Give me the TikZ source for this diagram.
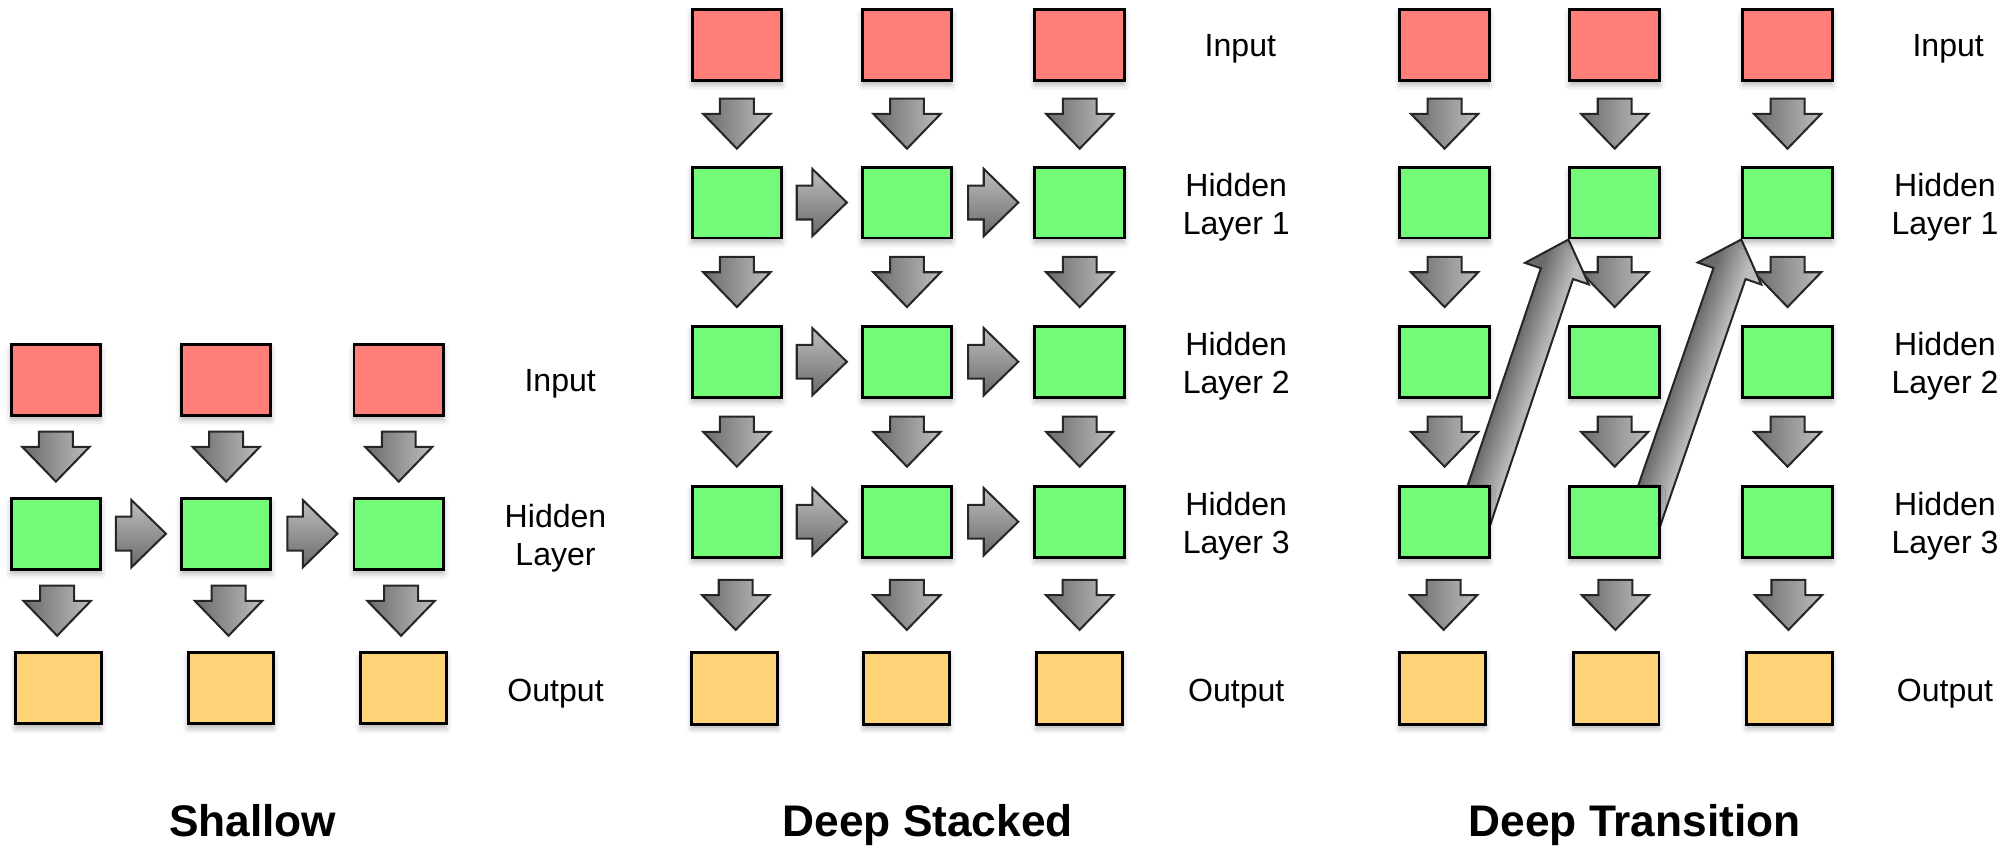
\documentclass[tikz,border=0pt]{standalone}
\usepackage{fontspec}
\setmainfont{Liberation Sans}
\usetikzlibrary{calc,shadows.blur}
\definecolor{salmon}{HTML}{FF7E79}
\definecolor{flora}{HTML}{73FA79}
\definecolor{cantaloupe}{HTML}{FFD479}
\definecolor{adark}{HTML}{6A6A6A}
\definecolor{alight}{HTML}{BEBEBE}
\definecolor{aedge}{HTML}{262626}
\pgfdeclarelayer{bg}
\pgfsetlayers{bg,main}
\tikzset{
  box/.style={draw=black, line width=1.3pt, minimum width=13.94mm, minimum height=11.04mm, inner sep=0pt,
    blur shadow={shadow xshift=0mm, shadow yshift=-0.7mm, shadow blur radius=0.9mm, shadow opacity=30}},
  inbox/.style={box, fill=salmon},
  hidbox/.style={box, fill=flora},
  outbox/.style={box, fill=cantaloupe, minimum width=13.34mm, minimum height=11.1mm},
  lbl/.style={font=\fontsize{14.2}{16.8}\selectfont, align=center, inner sep=0pt},
  ttl/.style={font=\fontsize{19.6}{23}\selectfont\bfseries, inner sep=0pt, anchor=base},
  arrowline/.style={draw=aedge, line width=0.9pt, line join=miter},
  darrow/.pic={\path[arrowline, left color=adark, right color=alight]
    (-13.2,-19.6) -- (13.2,-19.6) -- (13.2,-7.7) -- (26.2,-7.7) -- (0,19.4) -- (-26.2,-7.7) -- (-13.2,-7.7) -- cycle;},
  rarrow/.pic={\path[arrowline, top color=alight, bottom color=adark]
    (-19.6,-13.2) -- (-7.5,-13.2) -- (-7.5,-26.2) -- (19.4,0) -- (-7.5,26.2) -- (-7.5,13.2) -- (-19.6,13.2) -- cycle;},
  bigarrow/.pic={
    \begin{scope}
      \clip (0,-13.2) -- (#1-28,-13.2) -- (#1-28,-26.2) -- (#1,0) -- (#1-28,26.2) -- (#1-28,13.2) -- (0,13.2) -- cycle;
      \foreach \k in {0,...,26}{
        \pgfmathsetmacro{\c}{max(0,min(100,(2*\k-12)/26*100))}
        \fill[alight!\c!adark] (-1,-26+2*\k) rectangle (#1+1,-26+2*\k+2.3);
      }
    \end{scope}
    \path[arrowline] (0,-13.2) -- (#1-28,-13.2) -- (#1-28,-26.2) -- (#1,0) -- (#1-28,26.2) -- (#1-28,13.2) -- (0,13.2) -- cycle;
  },
}
\begin{document}
\begin{tikzpicture}[x=0.2mm,y=-0.2mm]
\useasboundingbox (0,0) rectangle (1568,658);

% ---------- Shallow ----------
\foreach \n/\x/\ox in {1/43.5/45.4, 2/176/179.7, 3/310.3/313.9}{
  \node[inbox] (si\n) at (\x,295.5) {};
  \node[hidbox] (sh\n) at (\x,415.3) {};
  \node[outbox] (so\n) at (\ox,535.5) {};
}
\node[lbl, anchor=base] (slin) at (435.9,304.5) {Input};
\node[lbl] (slhid) at (432.3,418.8) {Hidden\\Layer};
\node[lbl, anchor=base] (slout) at (432.3,545.9) {Output};
\node[ttl] (tshallow) at (196.6,651.1) {Shallow};

% ---------- Deep Stacked ----------
\foreach \n/\x/\ox in {1/573.4/571.6, 2/705.8/705.5, 3/840.2/840}{
  \node[inbox] (di\n) at (\x,35) {};
  \node[hidbox] (da\n) at (\x,157.6) {};
  \node[hidbox] (db\n) at (\x,281.5) {};
  \node[hidbox] (dc\n) at (\x,406) {};
  \node[outbox] (do\n) at (\ox,535.7) {};
}
\node[lbl, anchor=base] (dlin) at (965.2,44) {Input};
\node[lbl] (dlha) at (962,161.1) {Hidden\\Layer 1};
\node[lbl] (dlhb) at (962,285) {Hidden\\Layer 2};
\node[lbl] (dlhc) at (962,409.5) {Hidden\\Layer 3};
\node[lbl, anchor=base] (dlout) at (962,546.1) {Output};
\node[ttl] (tdeep) at (721.9,651.1) {Deep Stacked};

% ---------- Deep Transition ----------
\foreach \n/\x/\ox in {1/1124.1/1122.7, 2/1256.5/1257.6, 3/1391/1392.4}{
  \node[inbox] (ti\n) at (\x,35) {};
  \node[hidbox] (ta\n) at (\x,157.6) {};
  \node[hidbox] (tb\n) at (\x,281.5) {};
  \node[hidbox] (tc\n) at (\x,406) {};
  \node[outbox] (to\n) at (\ox,535.7) {};
}
\node[lbl, anchor=base] (tlin) at (1516,44) {Input};
\node[lbl] (tlha) at (1513.5,161.1) {Hidden\\Layer 1};
\node[lbl] (tlhb) at (1513.5,285) {Hidden\\Layer 2};
\node[lbl] (tlhc) at (1513.5,409.5) {Hidden\\Layer 3};
\node[lbl, anchor=base] (tlout) at (1513.5,546.1) {Output};
\node[ttl] (ttrans) at (1272,651.1) {Deep Transition};

% ---------- Arrows ----------
\begin{pgfonlayer}{bg}
\foreach \a/\b in {si1/sh1, si2/sh2, si3/sh3, sh1/so1, sh2/so2, sh3/so3,
                   di1/da1, di2/da2, di3/da3, da1/db1, da2/db2, da3/db3,
                   db1/dc1, db2/dc2, db3/dc3, dc1/do1, dc2/do2, dc3/do3,
                   ti1/ta1, ti2/ta2, ti3/ta3, ta1/tb1, ta2/tb2, ta3/tb3,
                   tb1/tc1, tb2/tc2, tb3/tc3, tc1/to1, tc2/to2, tc3/to3}{
  \pic at ($(\a.south)!0.5!(\b.north)$) {darrow};
}
\foreach \a/\b in {sh1/sh2, sh2/sh3, da1/da2, da2/da3, db1/db2, db2/db3, dc1/dc2, dc2/dc3}{
  \pic at ($(\a.east)!0.5!(\b.west)$) {rarrow};
}
\coordinate (tt1) at ([shift={(17.7,14)}]tc1.center);
\coordinate (tt2) at ([shift={(17.7,14)}]tc2.center);
\path (tt1) -- (ta2.south west) pic[pos=0, sloped] {bigarrow=246.5};
\path (tt2) -- (ta3.south west) pic[pos=0, sloped] {bigarrow=247.2};
\end{pgfonlayer}
\end{tikzpicture}
\end{document}
